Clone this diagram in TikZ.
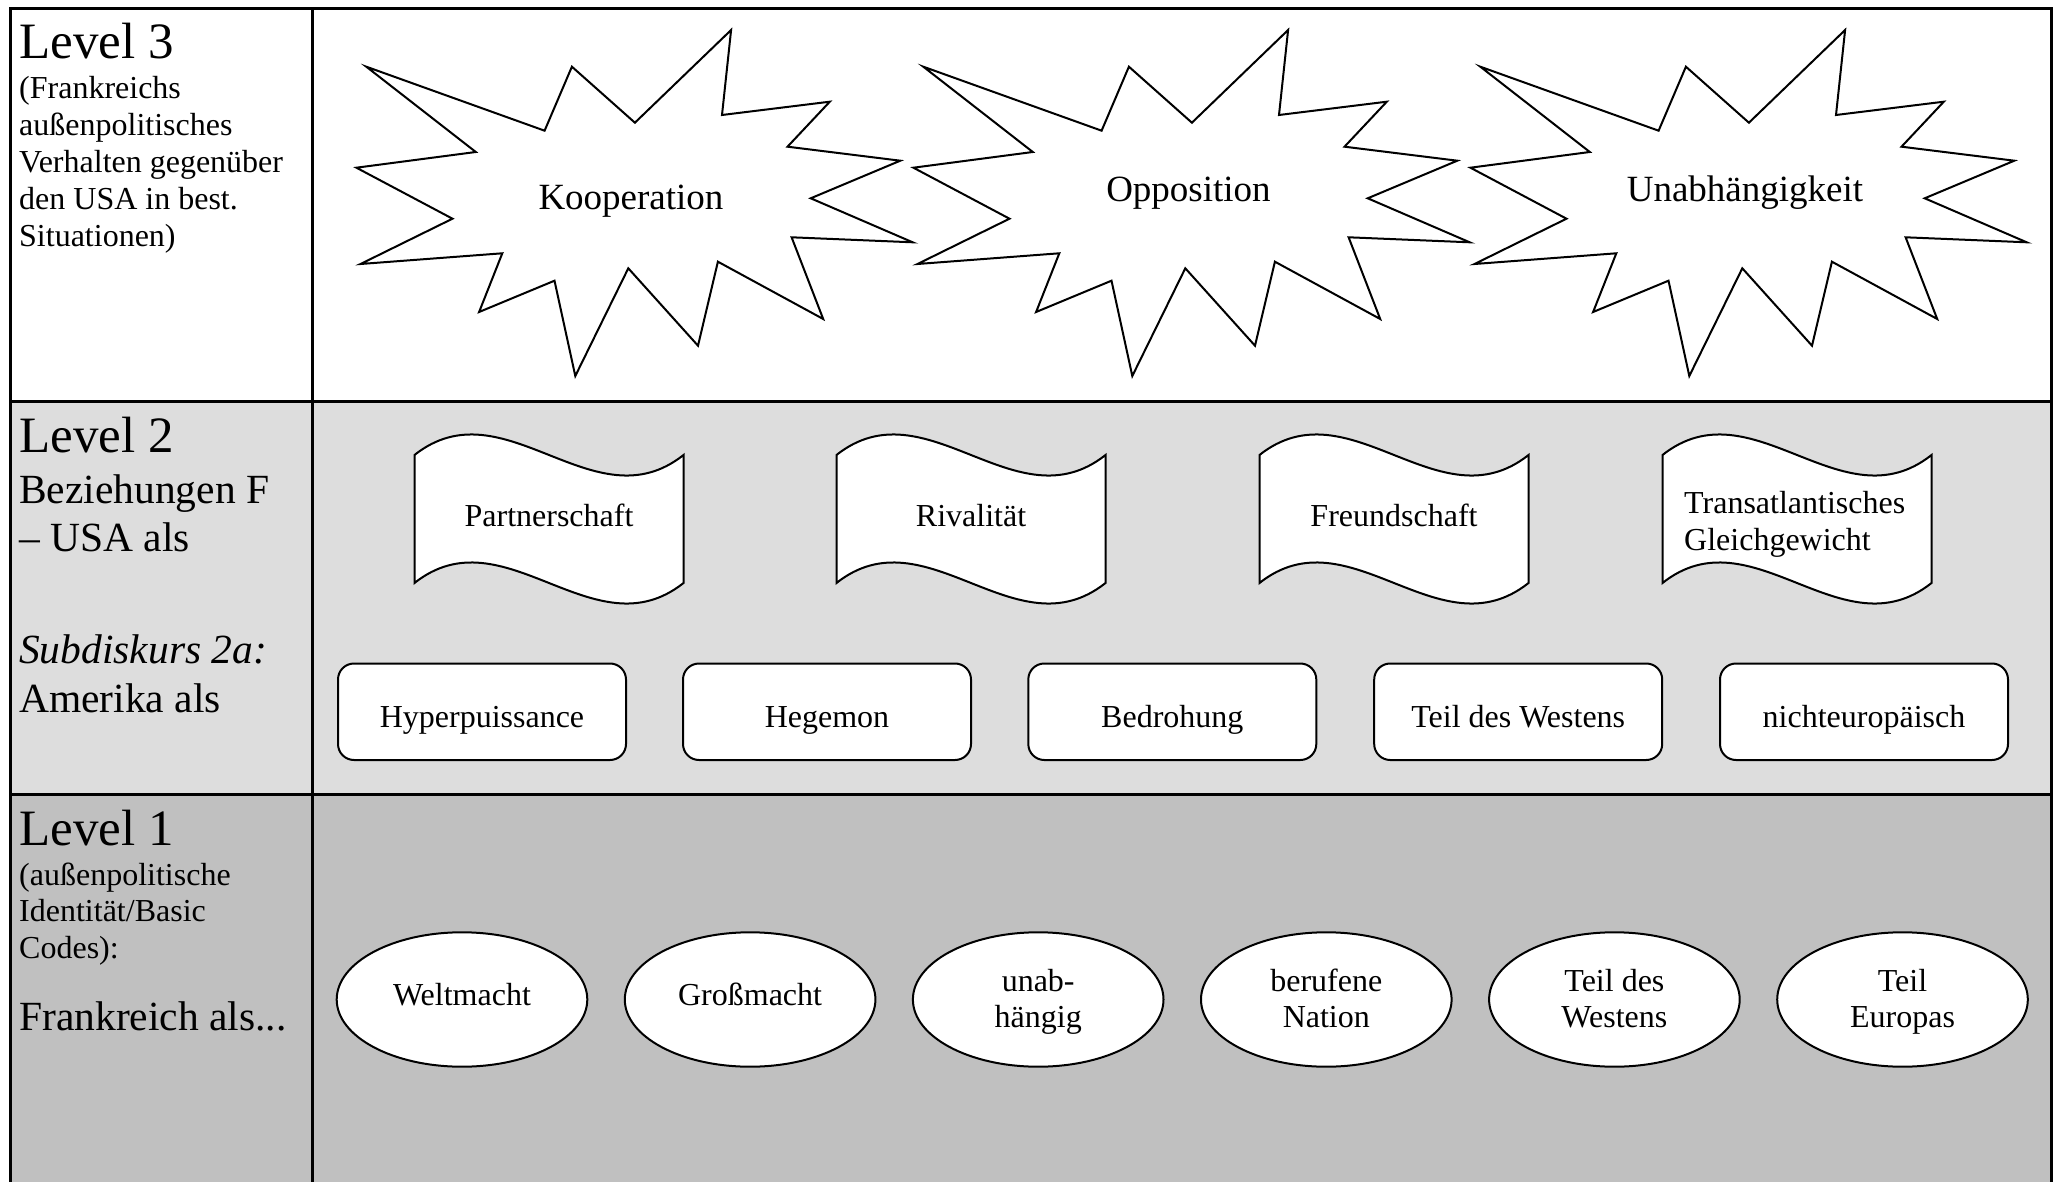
\documentclass[tikz,border=0pt]{standalone}
\usepackage{fontspec}
\setmainfont{Liberation Serif}
\usetikzlibrary{shapes.geometric}
\definecolor{lvltwo}{RGB}{221,221,221}
\definecolor{lvlone}{RGB}{192,192,192}
\tikzset{
  frameline/.style={line width=3pt},
  shapeline/.style={draw=black, line width=2pt, fill=white},
  rbox/.style={shapeline, rectangle, rounded corners=16pt, minimum width=288pt, minimum height=96.5pt, inner sep=0pt},
  ell/.style={shapeline, ellipse, minimum width=250.6pt, minimum height=134.4pt, inner sep=0pt},
  lvtitle/.style={font=\fontsize{51}{58}\selectfont, inner sep=0pt, anchor=base west},
  lvmid/.style={font=\fontsize{41.5}{48}\selectfont, inner sep=0pt, anchor=base west},
  lvsmall/.style={font=\fontsize{32}{37}\selectfont, inner sep=0pt, anchor=base west},
  shapetxt/.style={font=\fontsize{32}{37}\selectfont, inner sep=0pt, anchor=base},
  startxt/.style={font=\fontsize{37}{42}\selectfont, inner sep=0pt, anchor=base},
}
\begin{document}
\begin{tikzpicture}[x=1pt,y=-1pt]
\useasboundingbox (0,0) rectangle (2062,1182);
\fill[white] (0,0) rectangle (2062,1182);
% row backgrounds
\fill[lvltwo] (10,401.5) rectangle (2051.7,794);
\fill[lvlone] (10,794) rectangle (2051.7,1182);
% frame
\draw[frameline] (10,1182) -- (10,9) -- (2051.7,9) -- (2051.7,1182);
\draw[frameline] (10,401.5) -- (2051.7,401.5);
\draw[frameline] (10,794) -- (2051.7,794);
\draw[frameline] (312.3,9) -- (312.3,1182);

% ---------- Level 3 ----------
\node[lvtitle] (t3) at (19,58.3) {Level 3};
\node[lvsmall] (t3a) at (19,98.3) {(Frankreichs};
\node[lvsmall] (t3b) at (19,135.3) {außenpolitisches};
\node[lvsmall] (t3c) at (19,172.3) {Verhalten gegenüber};
\node[lvsmall] (t3d) at (19,209.3) {den USA in best.};
\node[lvsmall] (t3e) at (19,246.3) {Situationen)};

\foreach \dx in {0,557,1114}{
  \draw[shapeline, shift={(\dx,0)}]
    (366.3,66.7) -- (544.6,130.7) -- (571.9,66.7) -- (634.9,122.7) --
    (731.1,30) -- (722.0,115) -- (829.8,101.7) -- (787.5,146.7) --
    (900.3,160.7) -- (810.7,198.3) -- (912.7,242.3) -- (791.6,237.3) --
    (823.2,319) -- (717.9,261.7) -- (698.0,345.7) -- (628.3,268.3) --
    (575.3,376) -- (554.5,280.7) -- (479.1,312) -- (502.3,253.3) --
    (360.5,264) -- (452.5,218.7) -- (356.4,167.7) -- (475.8,152) -- cycle;
}
\node[startxt] (s1) at (631,209.5) {Kooperation};
\node[startxt] (s2) at (1188.5,201.5) {Opposition};
\node[startxt] (s3) at (1745,201.5) {Unabhängigkeit};

% ---------- Level 2 ----------
\node[lvtitle] (t2) at (19,452) {Level 2};
\node[lvmid] (t2a) at (19,503) {Beziehungen F};
\node[lvmid] (t2b) at (19,551) {– USA als};
\node[lvmid] (t2c) at (19,663) {\itshape Subdiskurs 2a:};
\node[lvmid] (t2d) at (19,712) {Amerika als};

\foreach \cx in {549,971,1394,1797}{
  \draw[shapeline, shift={(\cx,519)}]
    (-134.5,-64) .. controls (-44.8,-135.1) and (44.8,7.1) .. (134.5,-64)
    -- (134.5,64) .. controls (44.8,135.1) and (-44.8,-7.1) .. (-134.5,64) -- cycle;
}
\node[shapetxt] (w1) at (549,526) {Partnerschaft};
\node[shapetxt] (w2) at (971,526) {Rivalität};
\node[shapetxt] (w3) at (1394,526) {Freundschaft};
\node[lvsmall] (w4a) at (1684,513) {Transatlantisches};
\node[lvsmall] (w4b) at (1684,550) {Gleichgewicht};

\node[rbox] (b1) at (482,711.75) {};
\node[rbox] (b2) at (827,711.75) {};
\node[rbox] (b3) at (1172.3,711.75) {};
\node[rbox] (b4) at (1518.2,711.75) {};
\node[rbox] (b5) at (1864,711.75) {};
\node[shapetxt] (b1t) at (482,727) {Hyperpuissance};
\node[shapetxt] (b2t) at (827,727) {Hegemon};
\node[shapetxt] (b3t) at (1172.3,727) {Bedrohung};
\node[shapetxt] (b4t) at (1518.2,727) {Teil des Westens};
\node[shapetxt] (b5t) at (1864,727) {nichteuropäisch};

% ---------- Level 1 ----------
\node[lvtitle] (t1) at (19,845) {Level 1};
\node[lvsmall] (t1a) at (19,885) {(außenpolitische};
\node[lvsmall] (t1b) at (19,921.5) {Identität/Basic};
\node[lvsmall] (t1c) at (19,958) {Codes):};
\node[lvmid] (t1d) at (19,1030) {Frankreich als...};

\node[ell] (e1) at (462,999.5) {};
\node[ell] (e2) at (750.1,999.5) {};
\node[ell] (e3) at (1038.2,999.5) {};
\node[ell] (e4) at (1326.3,999.5) {};
\node[ell] (e5) at (1614.4,999.5) {};
\node[ell] (e6) at (1902.5,999.5) {};
\node[shapetxt] (e1t) at (462,1005) {Weltmacht};
\node[shapetxt] (e2t) at (750.1,1005) {Großmacht};
\node[shapetxt] (e3a) at (1038.2,991) {unab-};
\node[shapetxt] (e3b) at (1038.2,1027.5) {hängig};
\node[shapetxt] (e4a) at (1326.3,991) {berufene};
\node[shapetxt] (e4b) at (1326.3,1027.5) {Nation};
\node[shapetxt] (e5a) at (1614.4,991) {Teil des};
\node[shapetxt] (e5b) at (1614.4,1027.5) {Westens};
\node[shapetxt] (e6a) at (1902.5,991) {Teil};
\node[shapetxt] (e6b) at (1902.5,1027.5) {Europas};
\end{tikzpicture}
\end{document}
